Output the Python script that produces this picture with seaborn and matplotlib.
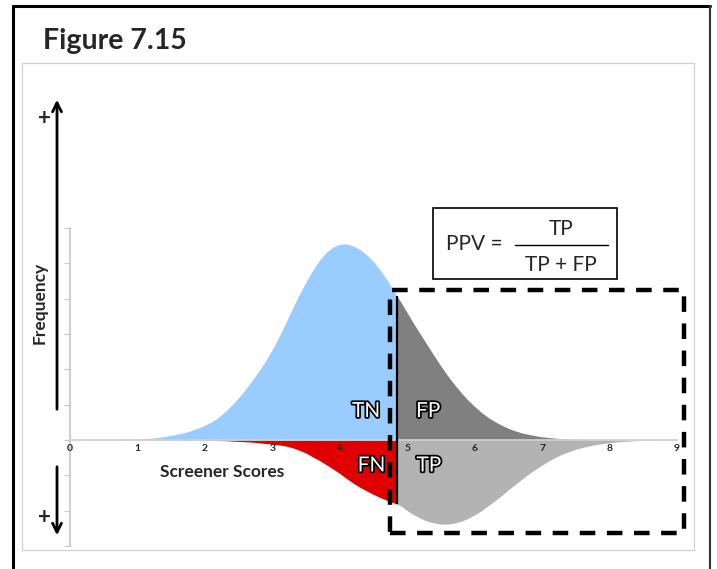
import matplotlib
matplotlib.use("Agg")
import numpy as np
import seaborn as sns
import matplotlib.pyplot as plt
import matplotlib.patheffects as pe
from matplotlib.patches import Rectangle, FancyArrowPatch
from matplotlib.lines import Line2D

# screener score grid (cutoff point included so the fills split cleanly)
scores = [0.0, 0.1, 0.2, 0.3, 0.4, 0.5, 0.6, 0.7, 0.8, 0.9,
          1.0, 1.1, 1.2, 1.3, 1.4, 1.5, 1.6, 1.7, 1.8, 1.9,
          2.0, 2.1, 2.2, 2.3, 2.4, 2.5, 2.6, 2.7, 2.8, 2.9,
          3.0, 3.1, 3.2, 3.3, 3.4, 3.5, 3.6, 3.7, 3.8, 3.9,
          4.0, 4.1, 4.2, 4.3, 4.4, 4.5, 4.6, 4.7, 4.8, 4.85,
          4.9, 5.0, 5.1, 5.2, 5.3, 5.4, 5.5, 5.6, 5.7, 5.8, 5.9,
          6.0, 6.1, 6.2, 6.3, 6.4, 6.5, 6.6, 6.7, 6.8, 6.9,
          7.0, 7.1, 7.2, 7.3, 7.4, 7.5, 7.6, 7.7, 7.8, 7.9,
          8.0, 8.1, 8.2, 8.3, 8.4, 8.5, 8.6, 8.7, 8.8, 8.9, 9.0]
# frequency of people without the condition (drawn above the axis)
without_cond = [0, 0, 0, 0, 0.003, 0.005, 0.007, 0.01, 0.015, 0.02,
                0.03, 0.04, 0.05, 0.07, 0.1, 0.13, 0.17, 0.21, 0.27, 0.34,
                0.42, 0.51, 0.64, 0.8, 0.99, 1.2, 1.43, 1.68, 1.95, 2.24,
                2.56, 2.93, 3.32, 3.73, 4.12, 4.48, 4.81, 5.09, 5.31, 5.46,
                5.54, 5.55, 5.49, 5.39, 5.24, 5.05, 4.81, 4.53, 4.22, 4.07,
                3.92, 3.60, 3.28, 2.98, 2.68, 2.38, 2.09, 1.82, 1.57, 1.34, 1.13,
                0.95, 0.78, 0.64, 0.52, 0.42, 0.33, 0.26, 0.2, 0.16, 0.12,
                0.09, 0.07, 0.05, 0.04, 0.03, 0.02, 0.015, 0.01, 0.007, 0.005,
                0.003, 0.002, 0, 0, 0, 0, 0, 0, 0, 0, 0]
# frequency of people with the condition (drawn below the axis)
with_cond = [0, 0, 0, 0, 0, 0, 0, 0, 0, 0,
             0, 0, 0, 0, 0, 0, 0, 0, 0.005, 0.005,
             0.01, 0.01, 0.015, 0.02, 0.03, 0.04, 0.05, 0.06, 0.08, 0.1,
             0.12, 0.14, 0.17, 0.22, 0.29, 0.37, 0.48, 0.58, 0.70, 0.82,
             0.95, 1.09, 1.22, 1.34, 1.44, 1.54, 1.63, 1.71, 1.78, 1.82,
             1.86, 2.0, 2.12, 2.22, 2.3, 2.35, 2.38, 2.38, 2.35, 2.3, 2.22,
             2.12, 2.0, 1.86, 1.72, 1.57, 1.41, 1.26, 1.11, 0.96, 0.83,
             0.71, 0.59, 0.49, 0.4, 0.33, 0.26, 0.21, 0.165, 0.13, 0.1,
             0.075, 0.055, 0.04, 0.03, 0.02, 0.015, 0.01, 0.007, 0.005, 0.003, 0]
cutoff = 4.85
score_ticks = list(range(10))
freq_ticks = list(range(-3, 7))

W, H = 717, 569


def fx(px):
    return px / W


def fy(py):
    return 1 - py / H


sns.set_theme(style="white")
plt.rcParams['font.family'] = ['Lato', 'DejaVu Sans']

fig = plt.figure(figsize=(W / 100, H / 100), dpi=100)
ax = fig.add_axes([fx(70), fy(546), (677 - 70) / W, (546 - 228) / H])

x = np.array(scores)
neg = np.array(without_cond)
pos = np.array(with_cond)
left = x <= cutoff
right = x >= cutoff

ax.fill_between(x[left], 0, neg[left], color='#99CCFF', lw=0)
ax.fill_between(x[right], 0, neg[right], color='#808080', lw=0)
ax.fill_between(x[left], 0, -pos[left], color='#E00000', lw=0)
ax.fill_between(x[right], 0, -pos[right], color='#B3B3B3', lw=0)

i_cut = scores.index(cutoff)
ax.vlines(cutoff, -with_cond[i_cut], without_cond[i_cut], color='black', lw=1.6, zorder=4)

ax.set_xlim(0, 9)
ax.set_ylim(-3, 6)
ax.set_axisbelow(False)
sns.despine(ax=ax, top=True, right=True)
ax.spines['left'].set_color('#C8C8C8')
ax.spines['bottom'].set_position(('data', 0))
ax.spines['bottom'].set_color('#D0D0D0')
ax.set_xticks(score_ticks)
ax.set_xticklabels([str(s) for s in score_ticks], fontsize=7.5, fontweight='bold')
ax.set_yticks(freq_ticks)
ax.set_yticklabels([])
ax.tick_params(axis='x', length=0, pad=3)
ax.tick_params(axis='y', left=True, length=4, color='#C8C8C8', width=0.8)
ax.patch.set_alpha(0)

stroke = [pe.withStroke(linewidth=2.5, foreground='black')]
for lab, dx, yy in [('TN', -0.46, 0.82), ('FP', 0.46, 0.82),
                    ('FN', -0.38, -0.72), ('TP', 0.47, -0.72)]:
    ax.text(cutoff + dx, yy, lab, color='white', fontsize=15, ha='center',
            va='center', path_effects=stroke, zorder=6)

# outer frame and inner panel
fig.add_artist(Line2D([fx(13), fx(13)], [fy(6), fy(575)], color='black', lw=2.2))
fig.add_artist(Line2D([fx(13), fx(710)], [fy(6), fy(6)], color='black', lw=2.2))
fig.add_artist(Line2D([fx(710), fx(710)], [fy(6), fy(575)], color='#333333', lw=1.5))
fig.add_artist(Rectangle((fx(22), fy(550)), (694 - 22) / W, (550 - 63) / H,
                         transform=fig.transFigure, fill=False,
                         edgecolor='#D0D0D0', lw=0.9))

fig.text(fx(43), fy(41), 'Figure 7.15', fontsize=20.5, fontweight='bold',
         ha='left', va='center')

# frequency arrows
fig.add_artist(FancyArrowPatch((fx(57), fy(412)), (fx(57), fy(97)),
                               transform=fig.transFigure, arrowstyle='->',
                               mutation_scale=16, lw=2, color='black'))
fig.add_artist(FancyArrowPatch((fx(57), fy(464)), (fx(57), fy(538)),
                               transform=fig.transFigure, arrowstyle='->',
                               mutation_scale=16, lw=2, color='black'))
fig.text(fx(44), fy(118), '+', fontsize=16, fontweight='bold', ha='center', va='center')
fig.text(fx(44), fy(518), '+', fontsize=16, fontweight='bold', ha='center', va='center')
fig.text(fx(40), fy(303), 'Frequency', fontsize=12.5, fontweight='bold',
         rotation=90, ha='center', va='center')
fig.text(fx(222), fy(472), 'Screener Scores', fontsize=12.5, fontweight='bold',
         ha='center', va='center')

# PPV formula box
fig.add_artist(Rectangle((fx(433), fy(279)), (617 - 433) / W, (279 - 208) / H,
                         transform=fig.transFigure, fill=False,
                         edgecolor='black', lw=1.2))
fig.text(fx(474), fy(244), 'PPV =', fontsize=15, ha='center', va='center')
fig.text(fx(561), fy(229), 'TP', fontsize=15, ha='center', va='center')
fig.add_artist(Line2D([fx(515), fx(608)], [fy(245), fy(245)], color='black', lw=1))
fig.text(fx(561), fy(265), 'TP + FP', fontsize=15, ha='center', va='center')

# dashed box around the positives
fig.add_artist(Rectangle((fx(390), fy(533)), (684 - 390) / W, (533 - 290) / H,
                         transform=fig.transFigure, fill=False,
                         edgecolor='black', lw=3.2, linestyle=(0, (3.5, 2.6)),
                         zorder=5))

fig.savefig('out.png', dpi=100)
